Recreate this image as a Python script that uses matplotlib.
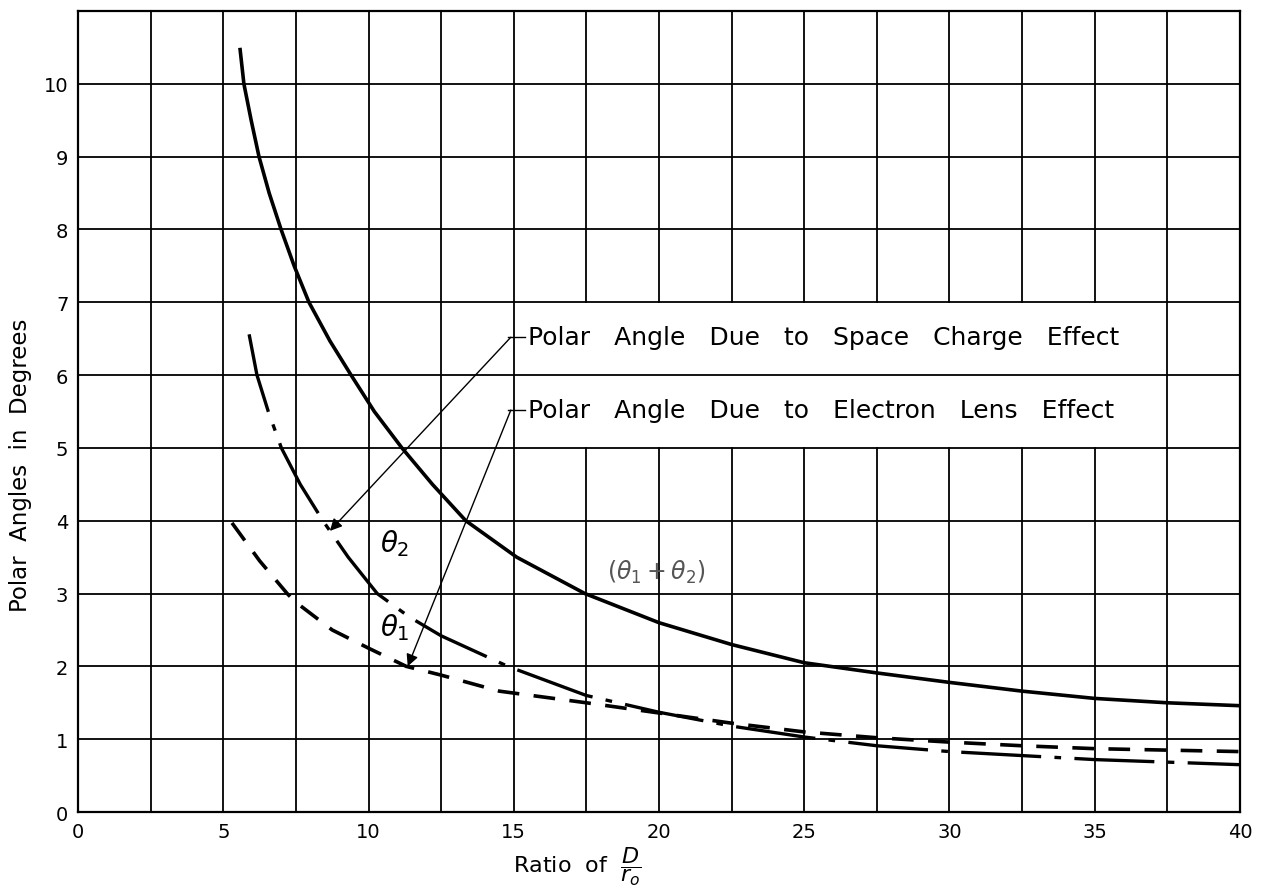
import matplotlib
matplotlib.use("Agg")
import matplotlib.pyplot as plt

# Values
ratio_sum = [5.58, 5.71, 5.96, 6.23, 6.58, 6.99, 7.44, 7.95, 8.67, 9.4, 10.2, 11.15, 12.2,
             13.35, 15.1, 17.45, 20.0, 22.5, 25.0, 27.5, 30.0, 32.5, 35.0, 37.5, 40.0]
angle_sum = [10.47, 10.0, 9.5, 9.0, 8.5, 8.0, 7.5, 7.0, 6.47, 6.0, 5.5, 5.0, 4.5,
             4.0, 3.5, 3.0, 2.6, 2.3, 2.05, 1.91, 1.78, 1.66, 1.56, 1.5, 1.46]

ratio_theta2 = [5.89, 6.16, 6.55, 7.0, 7.65, 8.43, 9.3, 10.3, 11.4, 12.5, 14.8, 17.5, 20.0,
                22.5, 25.0, 27.5, 30.0, 35.0, 40.0]
angle_theta2 = [6.56, 6.0, 5.5, 5.0, 4.5, 4.0, 3.5, 3.0, 2.68, 2.42, 2.0, 1.6, 1.37,
                1.18, 1.03, 0.91, 0.83, 0.72, 0.65]

ratio_theta1 = [5.3, 6.25, 7.2, 7.5, 8.75, 10.0, 11.3, 12.5, 14.5, 17.5, 20.0, 22.5, 25.0,
                27.5, 30.0, 32.5, 35.0, 37.5, 40.0]
angle_theta1 = [3.97, 3.45, 3.0, 2.88, 2.5, 2.25, 2.0, 1.88, 1.66, 1.5, 1.36, 1.22, 1.1,
                1.02, 0.96, 0.91, 0.87, 0.85, 0.83]

x_ticks = [0, 5, 10, 15, 20, 25, 30, 35, 40]
y_ticks = [0, 1, 2, 3, 4, 5, 6, 7, 8, 9, 10]

fig = plt.figure(figsize=(12.75, 8.95), dpi=100)
ax = fig.add_axes([0.0612, 0.0916, 0.9113, 0.895])

ax.set_xlim(0, 40)
ax.set_ylim(0, 11)

# grid every 2.5 in x and 1 in y, drawn by hand so the label box can cut it
grid_kw = dict(color="black", linewidth=1.3, zorder=1)
for i in range(1, 16):
    gx = i * 2.5
    if 15 < gx < 37.5:
        ax.plot([gx, gx], [0, 5], **grid_kw)
        ax.plot([gx, gx], [7, 11], **grid_kw)
    else:
        ax.plot([gx, gx], [0, 11], **grid_kw)
for gy in range(1, 11):
    ax.plot([0, 40], [gy, gy], **grid_kw)

ax.set_xticks(x_ticks)
ax.set_yticks(y_ticks)
ax.set_xticklabels([str(v) for v in x_ticks], fontsize=14)
ax.set_yticklabels([str(v) for v in y_ticks], fontsize=14)
ax.tick_params(length=0, pad=7)
for s in ax.spines.values():
    s.set_linewidth(1.6)

ax.plot(ratio_sum, angle_sum, color="black", linewidth=2.6, zorder=3)
ax.plot(ratio_theta2, angle_theta2, color="black", linewidth=2.4,
        dashes=(24, 4, 2, 4), zorder=3)
ax.plot(ratio_theta1, angle_theta1, color="black", linewidth=2.6,
        dashes=(6, 4), zorder=3)

arrow = dict(arrowstyle="-|>", color="black", linewidth=1.0, mutation_scale=18,
             shrinkA=0, shrinkB=0)
ax.annotate("", xy=(8.67, 3.86), xytext=(14.9, 6.52), arrowprops=arrow, zorder=4)
ax.annotate("", xy=(11.35, 2.0), xytext=(14.9, 5.52), arrowprops=arrow, zorder=4)
ax.plot([14.8, 15.4], [6.52, 6.52], color="black", linewidth=1.0, zorder=4)
ax.plot([14.8, 15.4], [5.52, 5.52], color="black", linewidth=1.0, zorder=4)

ax.text(15.5, 6.52, "Polar   Angle   Due   to   Space   Charge   Effect",
        fontsize=18, va="center", ha="left", zorder=4)
ax.text(15.5, 5.52, "Polar   Angle   Due   to   Electron   Lens   Effect",
        fontsize=18, va="center", ha="left", zorder=4)

ax.text(10.4, 3.7, r"$\theta_2$", fontsize=20, ha="left", va="center", zorder=4)
ax.text(10.4, 2.55, r"$\theta_1$", fontsize=20, ha="left", va="center", zorder=4)
ax.text(18.2, 3.3, r"$(\theta_1+\theta_2)$", fontsize=17, color="#555555",
        ha="left", va="center", zorder=4)

ax.set_ylabel("Polar  Angles  in  Degrees", fontsize=16.5)
ax.yaxis.set_label_coords(-0.040, 0.434)
ax.set_xlabel(r"Ratio  of  $\dfrac{D}{r_o}$", fontsize=16)
ax.xaxis.set_label_coords(0.43, -0.04)

fig.savefig("out.png", dpi=100)
